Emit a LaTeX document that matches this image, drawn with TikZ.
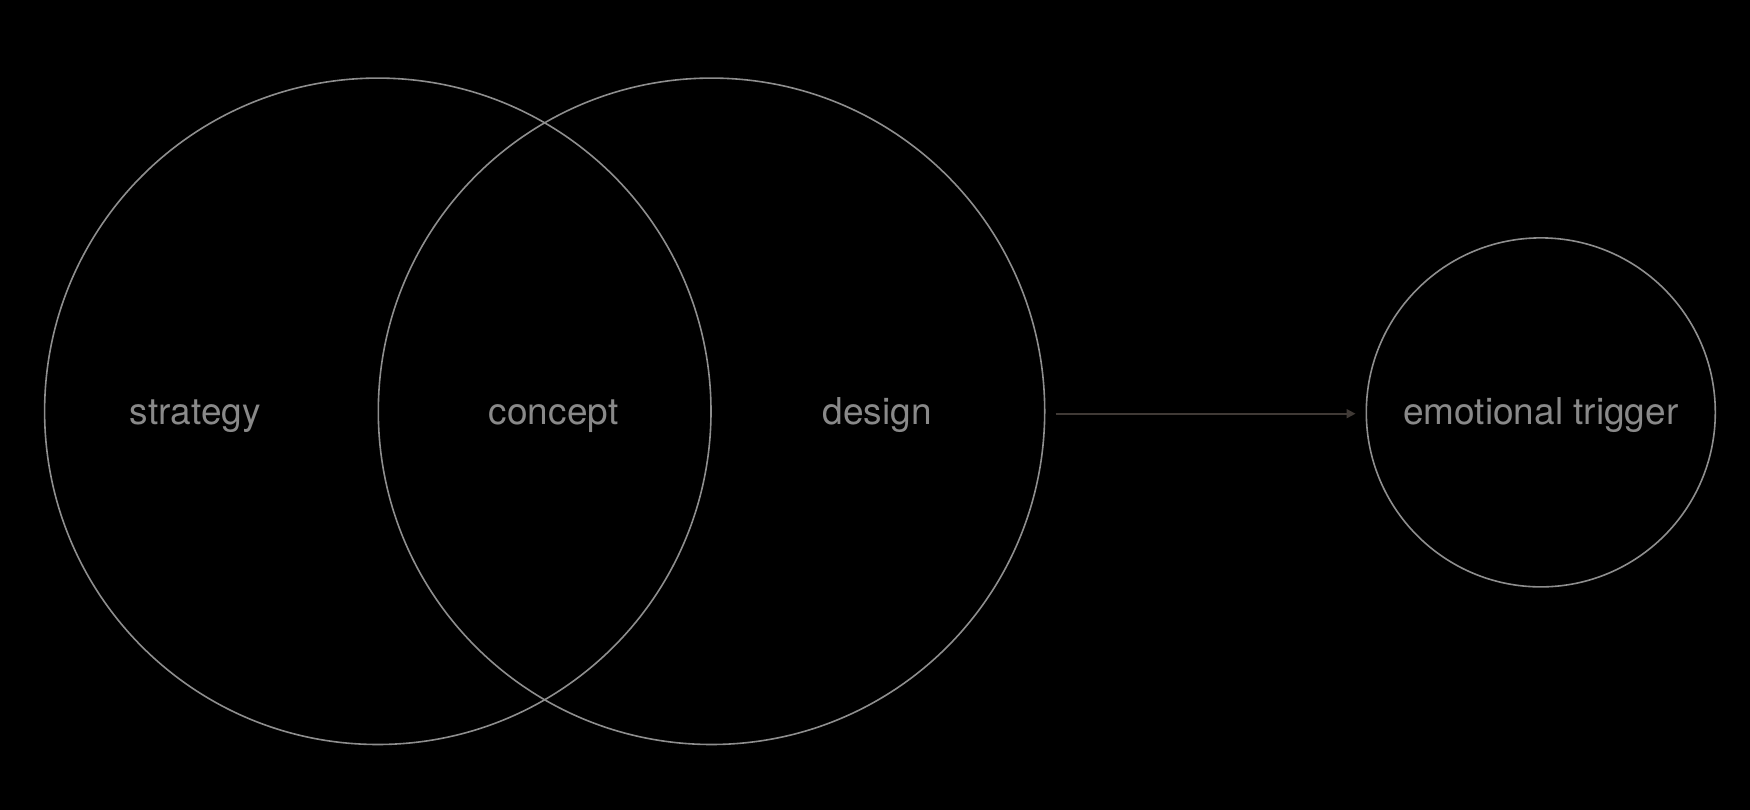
\documentclass[tikz,border=0pt]{standalone}
\usepackage{fontspec}
\setmainfont{TeX Gyre Heros}
\usetikzlibrary{arrows.meta}
\definecolor{ringgray}{HTML}{8E8E8E}
\definecolor{textgray}{HTML}{898989}
\definecolor{arrowbrown}{HTML}{403A36}
\begin{document}
\begin{tikzpicture}[x=1pt,y=1pt,
  ring/.style={circle,draw=ringgray,line width=1.6pt,inner sep=0pt},
  lbl/.style={text=textgray,font=\fontsize{37pt}{40pt}\selectfont,anchor=base,inner sep=0pt},
  flow/.style={draw=arrowbrown,line width=2pt,-{Triangle[length=9pt,width=9pt]}}]
\fill[black] (0,0) rectangle (1750,810);
\useasboundingbox (0,0) rectangle (1750,810);
\node[ring,minimum size=666.4pt] (strat) at (377.8,398.7) {};
\node[ring,minimum size=666.4pt] (des) at (711.5,398.7) {};
\node[ring,minimum size=349pt] (emo) at (1540.8,397.6) {};
\node[lbl] (tstrat) at (195.3,385.8) {strategy};
\node[lbl] (tconc) at (553.6,385.8) {concept};
\node[lbl] (tdes) at (877.3,385.8) {design};
\node[lbl] (temo) at (1540.8,385.8) {emotional trigger};
\draw[flow] ([xshift=10pt,yshift=-2.4pt]des.east) -- ([xshift=-10pt,yshift=-1.3pt]emo.west);
\end{tikzpicture}
\end{document}
